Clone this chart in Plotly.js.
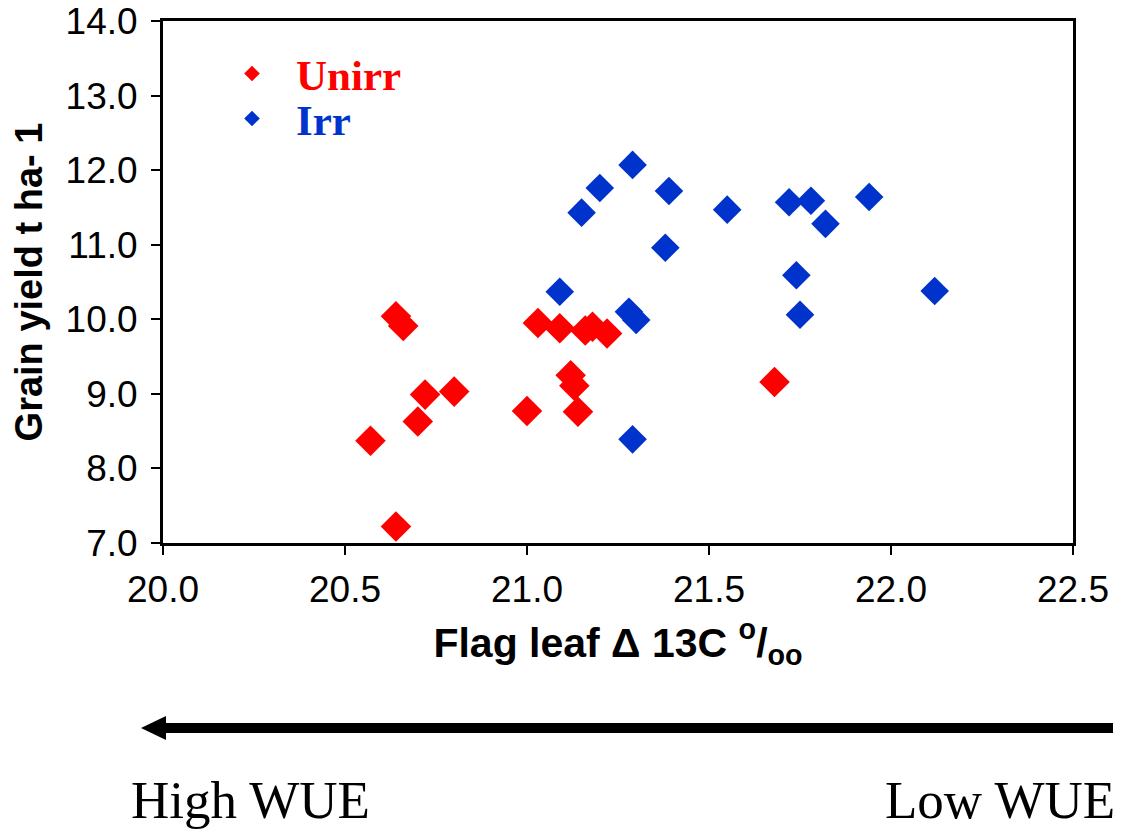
<!DOCTYPE html>
<html>
<head>
<meta charset="utf-8">
<script src="https://cdn.plot.ly/plotly-3.0.1.min.js"></script>
<style>html,body{margin:0;padding:0;background:#fff;}#chart{width:1122px;height:831px;}</style>
</head>
<body>
<div id="chart"></div>
<script>
// Data
const seriesNames = ["Unirr", "Irr"];
const unirrX = [20.57, 20.64, 20.64, 20.66, 20.72, 20.70, 20.80, 21.00, 21.03, 21.09, 21.16, 21.18, 21.22, 21.12, 21.13, 21.14, 21.68];
const unirrY = [8.37, 7.22, 10.04, 9.91, 8.99, 8.63, 9.03, 8.77, 9.95, 9.88, 9.85, 9.90, 9.81, 9.25, 9.11, 8.76, 9.16];
const irrX = [21.29, 21.20, 21.15, 21.39, 21.55, 21.38, 21.72, 21.78, 21.82, 21.94, 21.74, 21.75, 21.09, 21.28, 21.30, 21.29, 22.12];
const irrY = [12.07, 11.76, 11.43, 11.72, 11.47, 10.96, 11.57, 11.59, 11.28, 11.64, 10.59, 10.06, 10.37, 10.10, 9.99, 8.39, 10.38];
const xTickVals = [20.0, 20.5, 21.0, 21.5, 22.0, 22.5];
const yTickVals = [7, 8, 9, 10, 11, 12, 13, 14];
const xTitle = "<b>Flag leaf Δ 13C <sup>o</sup>/<sub>oo</sub></b>";
const yTitle = "<b>Grain yield t ha- 1</b>";
const leftLabel = "High WUE";
const rightLabel = "Low WUE";

const RED = "#FF0000", BLUE = "#0033CC";

// pixel helpers for layout decorations (plot area: x 163..1073, y 21..543)
const L = 163, R = 1073, T = 21, B = 543;
const px = v => (v - L) / (R - L);
const py = v => (B - v) / (B - T);

const traces = [
  {x: unirrX, y: unirrY, type: "scatter", mode: "markers",
   name: '<span style="color:' + RED + '">' + seriesNames[0] + '</span>',
   legend: "legend",
   marker: {symbol: "diamond", size: 23.5, color: RED}},
  {x: irrX, y: irrY, type: "scatter", mode: "markers",
   name: '<span style="color:' + BLUE + '">' + seriesNames[1] + '</span>',
   legend: "legend2",
   marker: {symbol: "diamond", size: 22, color: BLUE}}
];

const tickFont = {family: "Liberation Sans, Arial, sans-serif", size: 37, color: "#000"};
const legendFont = {family: "Liberation Serif, Times New Roman, serif", size: 43, weight: "bold"};

function legendAt(topPx) {
  return {
    x: px(208), y: py(topPx), xanchor: "left", yanchor: "top",
    bgcolor: "rgba(0,0,0,0)", borderwidth: 0,
    itemsizing: "constant", itemwidth: 78,
    font: legendFont
  };
}

const layout = {
  width: 1122, height: 831,
  margin: {l: L, r: 1122 - R, t: T, b: 831 - B, pad: 0},
  paper_bgcolor: "#fff", plot_bgcolor: "#fff",
  showlegend: true,
  legend: legendAt(39),
  legend2: legendAt(84),
  xaxis: {
    range: [20.0, 22.5], tickvals: xTickVals, tickformat: ".1f",
    showgrid: false, zeroline: false,
    showline: true, linecolor: "#000", linewidth: 3, mirror: true,
    ticks: "outside", ticklen: 9, tickwidth: 2, tickcolor: "#000",
    tickfont: tickFont, ticklabelstandoff: 3,
    title: {text: xTitle, font: {family: "Liberation Sans, Arial, sans-serif", size: 41, color: "#000"}, standoff: 19},
    automargin: false
  },
  yaxis: {
    range: [7.0, 14.0], tickvals: yTickVals, tickformat: ".1f",
    showgrid: false, zeroline: false,
    showline: true, linecolor: "#000", linewidth: 3, mirror: true,
    ticks: "outside", ticklen: 9, tickwidth: 2, tickcolor: "#000",
    tickfont: tickFont, ticklabelstandoff: 6,
    title: {text: yTitle, font: {family: "Liberation Sans, Arial, sans-serif", size: 38, color: "#000"}, standoff: 12},
    automargin: false
  },
  shapes: [
    {type: "line", xref: "paper", yref: "paper",
     x0: px(1113), x1: px(160), y0: py(728), y1: py(728),
     line: {color: "#000", width: 10}},
    {type: "path", xref: "paper", yref: "paper",
     path: "M " + px(141) + " " + py(728) + " L " + px(166) + " " + py(716) + " L " + px(166) + " " + py(740) + " Z",
     fillcolor: "#000", line: {color: "#000", width: 0}}
  ],
  annotations: [
    {text: leftLabel, xref: "paper", yref: "paper", x: px(129), y: py(800),
     xanchor: "left", yanchor: "middle", showarrow: false,
     font: {family: "Liberation Serif, Times New Roman, serif", size: 53, color: "#000"}},
    {text: rightLabel, xref: "paper", yref: "paper", x: px(1117), y: py(800),
     xanchor: "right", yanchor: "middle", showarrow: false,
     font: {family: "Liberation Serif, Times New Roman, serif", size: 53, color: "#000"}}
  ]
};

Plotly.newPlot("chart", traces, layout, {displayModeBar: false, staticPlot: true});
</script>
</body>
</html>
